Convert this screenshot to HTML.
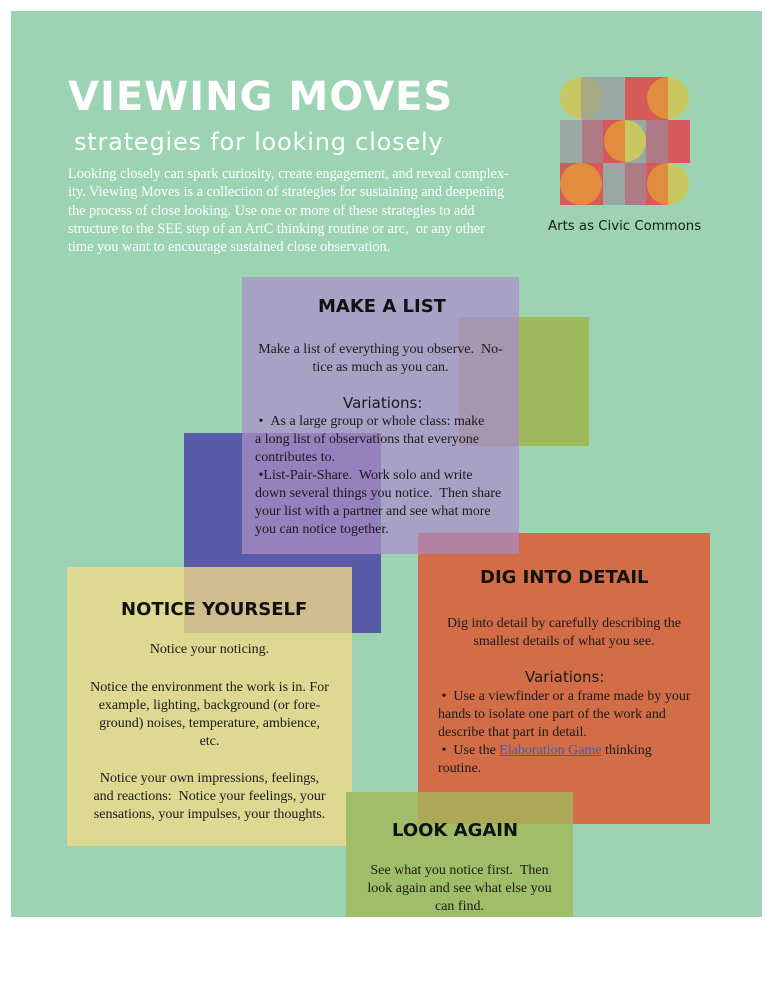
<!DOCTYPE html>
<html><head><meta charset="utf-8"><style>
*{margin:0;padding:0;box-sizing:border-box}
body{width:773px;height:1000px;background:#fff;position:relative;overflow:hidden;font-family:"Liberation Serif",serif}
.a{position:absolute}
.bg{left:11px;top:11px;width:751px;height:906px;background:#9bd3b3}
.h{position:absolute;font-family:"DejaVu Sans",sans-serif;font-weight:bold;color:#111;font-size:18px;white-space:nowrap}
.t{position:absolute;font-size:14px;color:#1a1a1a;white-space:nowrap;line-height:18px}
.c{text-align:center}
.v{font-family:"DejaVu Sans",sans-serif;font-size:15px;color:#1a1a1a;position:absolute;white-space:nowrap}
</style></head><body>
<div class="a bg"></div>
<div class="a" style="left:68px;top:74px;color:#fff;font-family:'DejaVu Sans',sans-serif;font-weight:bold;font-size:40px;letter-spacing:1px">VIEWING MOVES</div>
<div class="a" style="left:74px;top:128px;color:#fff;font-family:'DejaVu Sans',sans-serif;font-size:24px;letter-spacing:0.8px">strategies for looking closely</div>
<div class="a" style="left:68px;top:165px;color:#fff;font-size:14.3px;line-height:18.3px;width:460px">Looking closely can spark curiosity, create engagement, and reveal complex-<br>ity. Viewing Moves is a collection of strategies for sustaining and deepening<br>the process of close looking. Use one or more of these strategies to add<br>structure to the SEE step of an ArtC thinking routine or arc,&nbsp; or any other<br>time you want to encourage sustained close observation.</div>
<svg class="a" style="left:0;top:0" width="773" height="260">
<rect x="582" y="77" width="43" height="43" fill="#98a9a3"/>
<rect x="625" y="77" width="43" height="43" fill="#d65a5a"/>
<path d="M581 77 A21 21 0 0 0 581 119 Z" fill="#c8c762"/><path d="M581 77 A21 21 0 0 1 581 119 Z" fill="#a8a882"/>
<path d="M668 77 A21 21 0 0 0 668 119 Z" fill="#e08e3e"/><path d="M668 77 A21 21 0 0 1 668 119 Z" fill="#c8c762"/>
<rect x="560" y="120" width="22" height="43" fill="#98a9a3"/><rect x="582" y="120" width="21" height="43" fill="#ad7a85"/>
<rect x="603" y="120" width="22" height="43" fill="#d65a5a"/><rect x="625" y="120" width="21" height="43" fill="#98a9a3"/>
<rect x="646" y="120" width="22" height="43" fill="#ad7a85"/><rect x="668" y="120" width="22" height="43" fill="#d65a5a"/>
<path d="M625 120 A21 21 0 0 0 625 162 Z" fill="#e08e3e"/><path d="M625 120 A21 21 0 0 1 625 162 Z" fill="#c8c762"/>
<rect x="560" y="163" width="43" height="42" fill="#d65a5a"/><rect x="603" y="163" width="22" height="42" fill="#98a9a3"/>
<rect x="625" y="163" width="21" height="42" fill="#ad7a85"/><rect x="646" y="163" width="22" height="42" fill="#d65a5a"/>
<circle cx="581" cy="184" r="21" fill="#e08e3e"/>
<path d="M668 163 A21 21 0 0 0 668 205 Z" fill="#e08e3e"/><path d="M668 163 A21 21 0 0 1 668 205 Z" fill="#c8c762"/>
</svg>
<div class="a" style="left:548px;top:219px;font-family:'DejaVu Sans',sans-serif;font-size:13.3px;color:#1a1a1a">Arts as Civic Commons</div>
<div class="a" style="left:459px;top:317px;width:130px;height:129px;background:#a1b95d"></div>
<div class="a" style="left:184px;top:433px;width:197px;height:200px;background:#5a5ba8"></div>
<div class="a" style="left:242px;top:277px;width:277px;height:277px;background:rgba(170,155,200,0.9)"></div>
<div class="a" style="left:459px;top:317px;width:60px;height:129px;background:#a796b0"></div>
<div class="a" style="left:242px;top:433px;width:139px;height:121px;background:#9680bd"></div>
<div class="a" style="left:67px;top:567px;width:285px;height:279px;background:#dfd893"></div>
<div class="a" style="left:184px;top:567px;width:168px;height:66px;background:#d0bd8f"></div>
<div class="a" style="left:418px;top:533px;width:292px;height:291px;background:#d26d48"></div>
<div class="a" style="left:418px;top:533px;width:101px;height:21px;background:#b481a2"></div>
<div class="a" style="left:346px;top:792px;width:227px;height:125px;background:#a0bd68"></div>
<div class="a" style="left:418px;top:792px;width:155px;height:32px;background:#aca858"></div>
<div class="h" style="left:318px;top:296px">MAKE A LIST</div>
<div class="t c" style="left:242px;top:341px;width:277px">Make a list of everything you observe.&nbsp; No-<br>tice as much as you can.</div>
<div class="v" style="left:343px;top:394px">Variations:</div>
<div class="t" style="left:255px;top:413px">&nbsp;• &nbsp;As a large group or whole class: make<br>a long list of observations that everyone<br>contributes to.<br>&nbsp;•List-Pair-Share.&nbsp; Work solo and write<br>down several things you notice.&nbsp; Then share<br>your list with a partner and see what more<br>you can notice together.</div>
<div class="h" style="left:121px;top:599px">NOTICE YOURSELF</div>
<div class="t c" style="left:67px;top:641px;width:285px">Notice your noticing.</div>
<div class="t c" style="left:67px;top:679px;width:285px">Notice the environment the work is in. For<br>example, lighting, background (or fore-<br>ground) noises, temperature, ambience,<br>etc.</div>
<div class="t c" style="left:67px;top:770px;width:285px">Notice your own impressions, feelings,<br>and reactions:&nbsp; Notice your feelings, your<br>sensations, your impulses, your thoughts.</div>
<div class="h" style="left:480px;top:567px">DIG INTO DETAIL</div>
<div class="t c" style="left:418px;top:615px;width:292px">Dig into detail by carefully describing the<br>smallest details of what you see.</div>
<div class="v" style="left:525px;top:668px">Variations:</div>
<div class="t" style="left:438px;top:688px">&nbsp;• &nbsp;Use a viewfinder or a frame made by your<br>hands to isolate one part of the work and<br>describe that part in detail.<br>&nbsp;• &nbsp;Use the <span style="color:#3f5fae;text-decoration:underline">Elaboration Game</span> thinking<br>routine.</div>
<div class="h" style="left:392px;top:820px">LOOK AGAIN</div>
<div class="t c" style="left:346px;top:862px;width:227px">See what you notice first.&nbsp; Then<br>look again and see what else you<br>can find.</div>
</body></html>
